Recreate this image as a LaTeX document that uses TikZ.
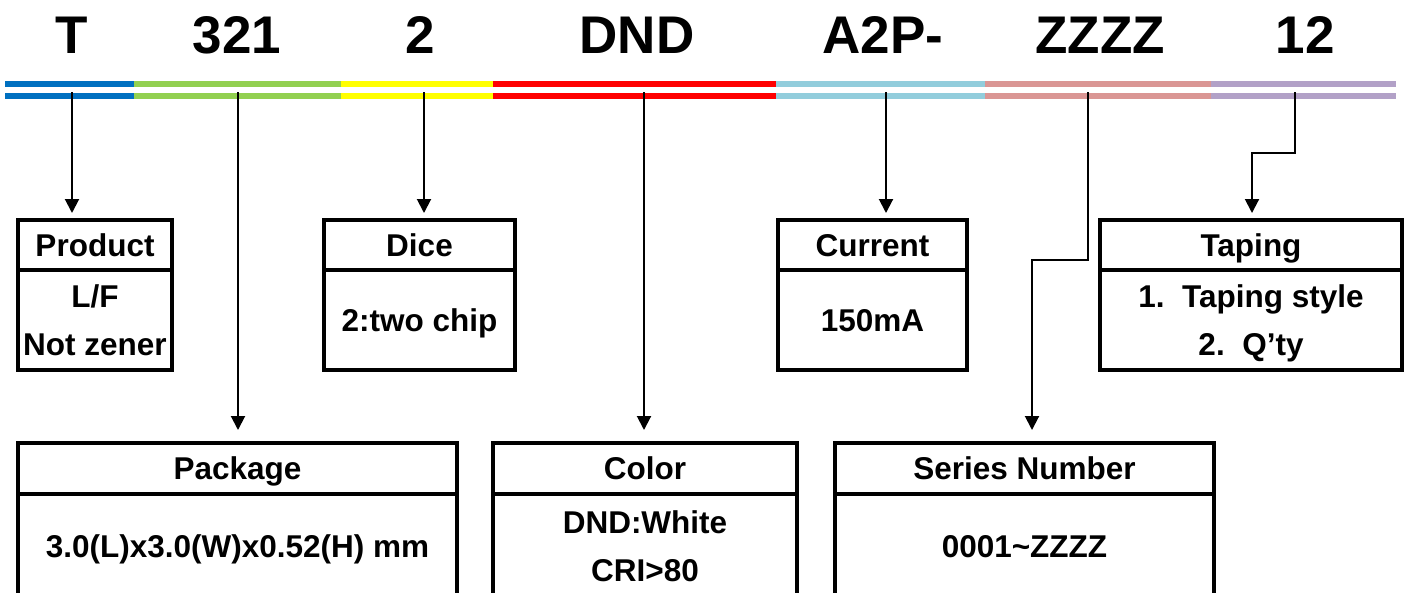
\documentclass[tikz,border=0pt]{standalone}
\usepackage{fontspec}
\setmainfont{Liberation Sans}
\usetikzlibrary{arrows.meta, positioning}
\definecolor{segblue}{HTML}{0070C0}
\definecolor{seggreen}{HTML}{92D050}
\definecolor{segyellow}{HTML}{FFFF00}
\definecolor{segred}{HTML}{FF0000}
\definecolor{seglightblue}{HTML}{92CDDC}
\definecolor{segrose}{HTML}{DA9694}
\definecolor{segpurple}{HTML}{B2A1C7}

\begin{document}
\begin{tikzpicture}[
      x=1pt, y=1pt,
      code/.style={anchor=base, inner sep=0pt,
                   font=\fontsize{53}{60}\selectfont\bfseries},
      bar/.style={line width=6pt},
      head/.style={rectangle, draw, line width=3.3pt, outer sep=0pt, inner sep=0pt,
                   minimum height=50pt, text depth=0pt, align=center,
                   font=\fontsize{31.5}{48}\selectfont\bfseries},
      body/.style={head, minimum height=100pt},
      arr/.style={-{Triangle[length=14pt, width=14pt]}, line width=2pt}
    ]
    \useasboundingbox (0,0) rectangle (1410,-592);
    \clip (0,0) rectangle (1410,-592);

    % part number
    \node[code] (codeT) at (72,-53) {T};
    \node[code] (code321) at (237,-53) {321};
    \node[code] (code2) at (420,-53) {2};
    \node[code] (codeDND) at (637,-53) {DND};
    \node[code] (codeA2P) at (883,-53) {A2P-};
    \node[code] (codeZZZZ) at (1100,-53) {ZZZZ};
    \node[code] (code12) at (1305,-53) {12};

    % colour bars
    \draw[bar, segblue] (5,-84) -- (134,-84) (5,-96) -- (134,-96);
    \draw[bar, seggreen] (134,-84) -- (341,-84) (134,-96) -- (341,-96);
    \draw[bar, segyellow] (341,-84) -- (493,-84) (341,-96) -- (493,-96);
    \draw[bar, segred] (493,-84) -- (776,-84) (493,-96) -- (776,-96);
    \draw[bar, seglightblue] (776,-84) -- (985,-84) (776,-96) -- (985,-96);
    \draw[bar, segrose] (985,-84) -- (1211,-84) (985,-96) -- (1211,-96);
    \draw[bar, segpurple] (1211,-84) -- (1396,-84) (1211,-96) -- (1396,-96);

    % upper row
    \node[head, minimum width=154pt] (prodhead) at (95,-245) {Product};
    \node[body, minimum width=154pt, below=0pt of prodhead] (prodbody) {L/F\\Not zener};
    \node[head, minimum width=191pt] (dicehead) at (419.5,-245) {Dice};
    \node[body, minimum width=191pt, below=0pt of dicehead] (dicebody) {2:two chip};
    \node[head, minimum width=189pt] (currhead) at (872.5,-245) {Current};
    \node[body, minimum width=189pt, below=0pt of currhead] (currbody) {150mA};
    \node[head, minimum width=302pt] (taphead) at (1251,-245) {Taping};
    \node[body, minimum width=302pt, below=0pt of taphead] (tapbody) {1.\ \ Taping style\\2.\ \ Q'ty};

    % lower row
    \node[head, minimum width=439pt, minimum height=51pt] (packhead) at (237.5,-468.5) {Package};
    \node[body, minimum width=439pt, minimum height=104pt, below=0pt of packhead] (packbody) {3.0(L)x3.0(W)x0.52(H) mm};
    \node[head, minimum width=304pt, minimum height=51pt] (colhead) at (645,-468.5) {Color};
    \node[body, minimum width=304pt, minimum height=104pt, below=0pt of colhead] (colbody) {DND:White\\CRI>80};
    \node[head, minimum width=379pt, minimum height=51pt] (serhead) at (1024.5,-468.5) {Series Number};
    \node[body, minimum width=379pt, minimum height=104pt, below=0pt of serhead] (serbody) {0001\textasciitilde ZZZZ};

    % arrows
    \coordinate (pT) at (72,-92);
    \coordinate (p321) at (238,-92);
    \coordinate (p2) at (424,-92);
    \coordinate (pDND) at (644,-92);
    \coordinate (pA2P) at (886,-92);
    \coordinate (pZZZZ) at (1088,-92);
    \coordinate (p12) at (1295,-92);
    \coordinate (zjog) at (1032,-260);
    \coordinate (tjog) at (1252,-153);

    \draw[arr, shorten >=7pt] (pT) -- (pT |- prodhead.north);
    \draw[arr, shorten >=13pt] (p321) -- (p321 |- packhead.north);
    \draw[arr, shorten >=7pt] (p2) -- (p2 |- dicehead.north);
    \draw[arr, shorten >=13pt] (pDND) -- (pDND |- colhead.north);
    \draw[arr, shorten >=7pt] (pA2P) -- (pA2P |- currhead.north);
    \draw[arr, shorten >=13pt] (pZZZZ) |- (zjog) -- (zjog |- serhead.north);
    \draw[arr, shorten >=7pt] (p12) |- (tjog) -- (tjog |- taphead.north);
  \end{tikzpicture}
\end{document}
